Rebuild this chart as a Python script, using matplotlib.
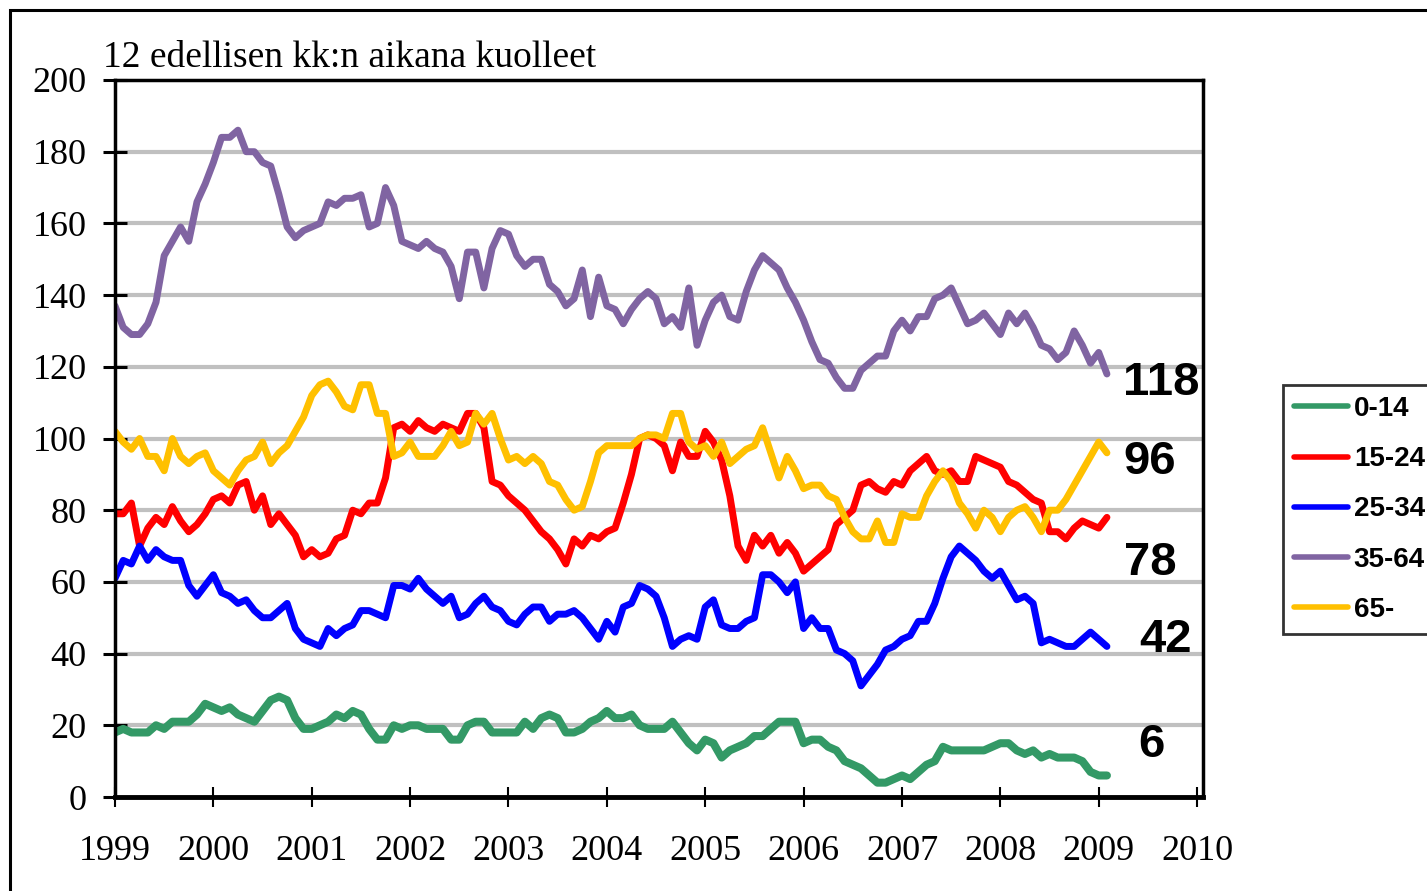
import numpy as np
import matplotlib
matplotlib.use("Agg")
import matplotlib.pyplot as plt
from matplotlib.patches import Rectangle

# monthly values, Jan 1999 .. Feb 2009
age_0_14 = [18, 19, 18, 18, 18, 20, 19, 21, 21, 21, 23, 26,
            25, 24, 25, 23, 22, 21, 24, 27, 28, 27, 22, 19,
            19, 20, 21, 23, 22, 24, 23, 19, 16, 16, 20, 19,
            20, 20, 19, 19, 19, 16, 16, 20, 21, 21, 18, 18,
            18, 18, 21, 19, 22, 23, 22, 18, 18, 19, 21, 22,
            24, 22, 22, 23, 20, 19, 19, 19, 21, 18, 15, 13,
            16, 15, 11, 13, 14, 15, 17, 17, 19, 21, 21, 21,
            15, 16, 16, 14, 13, 10, 9, 8, 6, 4, 4, 5,
            6, 5, 7, 9, 10, 14, 13, 13, 13, 13, 13, 14,
            15, 15, 13, 12, 13, 11, 12, 11, 11, 11, 10, 7,
            6, 6]
age_15_24 = [79, 79, 82, 70, 75, 78, 76, 81, 77, 74, 76, 79,
             83, 84, 82, 87, 88, 80, 84, 76, 79, 76, 73, 67,
             69, 67, 68, 72, 73, 80, 79, 82, 82, 89, 103, 104,
             102, 105, 103, 102, 104, 103, 102, 107, 107, 103, 88, 87,
             84, 82, 80, 77, 74, 72, 69, 65, 72, 70, 73, 72,
             74, 75, 82, 90, 100, 101, 100, 98, 91, 99, 95, 95,
             102, 99, 94, 84, 70, 66, 73, 70, 73, 68, 71, 68,
             63, 65, 67, 69, 76, 78, 80, 87, 88, 86, 85, 88,
             87, 91, 93, 95, 91, 90, 91, 88, 88, 95, 94, 93,
             92, 88, 87, 85, 83, 82, 74, 74, 72, 75, 77, 76,
             75, 78]
age_25_34 = [61, 66, 65, 70, 66, 69, 67, 66, 66, 59, 56, 59,
             62, 57, 56, 54, 55, 52, 50, 50, 52, 54, 47, 44,
             43, 42, 47, 45, 47, 48, 52, 52, 51, 50, 59, 59,
             58, 61, 58, 56, 54, 56, 50, 51, 54, 56, 53, 52,
             49, 48, 51, 53, 53, 49, 51, 51, 52, 50, 47, 44,
             49, 46, 53, 54, 59, 58, 56, 50, 42, 44, 45, 44,
             53, 55, 48, 47, 47, 49, 50, 62, 62, 60, 57, 60,
             47, 50, 47, 47, 41, 40, 38, 31, 34, 37, 41, 42,
             44, 45, 49, 49, 54, 61, 67, 70, 68, 66, 63, 61,
             63, 59, 55, 56, 54, 43, 44, 43, 42, 42, 44, 46,
             44, 42]
age_35_64 = [137, 131, 129, 129, 132, 138, 151, 155, 159, 155, 166, 171,
             177, 184, 184, 186, 180, 180, 177, 176, 168, 159, 156, 158,
             159, 160, 166, 165, 167, 167, 168, 159, 160, 170, 165, 155,
             154, 153, 155, 153, 152, 148, 139, 152, 152, 142, 153, 158,
             157, 151, 148, 150, 150, 143, 141, 137, 139, 147, 134, 145,
             137, 136, 132, 136, 139, 141, 139, 132, 134, 131, 142, 126,
             133, 138, 140, 134, 133, 141, 147, 151, 149, 147, 142, 138,
             133, 127, 122, 121, 117, 114, 114, 119, 121, 123, 123, 130,
             133, 130, 134, 134, 139, 140, 142, 137, 132, 133, 135, 132,
             129, 135, 132, 135, 131, 126, 125, 122, 124, 130, 126, 121,
             124, 118]
age_65 = [102, 99, 97, 100, 95, 95, 91, 100, 95, 93, 95, 96,
          91, 89, 87, 91, 94, 95, 99, 93, 96, 98, 102, 106,
          112, 115, 116, 113, 109, 108, 115, 115, 107, 107, 95, 96,
          99, 95, 95, 95, 98, 102, 98, 99, 107, 104, 107, 100,
          94, 95, 93, 95, 93, 88, 87, 83, 80, 81, 88, 96,
          98, 98, 98, 98, 100, 101, 101, 100, 107, 107, 99, 97,
          98, 95, 99, 93, 95, 97, 98, 103, 96, 89, 95, 91,
          86, 87, 87, 84, 83, 78, 74, 72, 72, 77, 71, 71,
          79, 78, 78, 84, 88, 91, 88, 82, 79, 75, 80, 78,
          74, 78, 80, 81, 78, 74, 80, 80, 83, 87, 91, 95,
          99, 96]

labels = ["0-14", "15-24", "25-34", "35-64", "65-"]
colors = ["#339966", "#FF0000", "#0000FF", "#8064A2", "#FFC000"]
series = [age_0_14, age_15_24, age_25_34, age_35_64, age_65]
end_labels = ["6", "78", "42", "118", "96"]
years = list(range(1999, 2011))

months = np.arange(len(age_0_14))
x = 1999 + months / 12.0

fig = plt.figure(figsize=(14.27, 8.91), dpi=100)
ax = fig.add_axes([115 / 1427, 1 - 797 / 891, (1203 - 115) / 1427, (797 - 80) / 891])

for vals, col, lab in zip(series, colors, labels):
    lw = 5.8 if lab == "0-14" else 5.0
    ax.plot(x, vals, color=col, lw=lw, label=lab, solid_joinstyle="round",
            solid_capstyle="round")

ax.set_xlim(1999, 2010.06)
ax.set_ylim(0, 200)
ax.set_yticks(range(0, 201, 20))
ax.set_xticks(years)
ax.set_xticklabels([str(y) for y in years])
for yv in range(20, 200, 20):
    ax.axhline(yv, color="#C0C0C0", lw=3, zorder=0)

for sp in ax.spines.values():
    sp.set_linewidth(2.5)
    sp.set_color("black")
ax.spines["bottom"].set_linewidth(3.5)

ax.tick_params(axis="y", direction="inout", length=17, width=2.2, pad=12,
               labelsize=26)
ax.tick_params(axis="x", direction="inout", length=15, width=1.5, pad=20,
               labelsize=26)
for t in ax.get_xticklabels() + ax.get_yticklabels():
    t.set_fontfamily("Liberation Serif")

ax.text(1999 - 12 / 98.4, 201.5, "12 edellisen kk:n aikana kuolleet",
        fontfamily="Liberation Serif", fontsize=27, va="bottom", ha="left")

# values at the end of each line
end_pos = [(2009.54, 14.5), (2009.52, 65.3), (2009.68, 43.8),
           (2009.64, 115.5), (2009.52, 93.4)]
for txt, (px, py) in zip(end_labels, end_pos):
    ax.text(px, py, txt, fontfamily="Liberation Sans", fontweight="bold",
            fontsize=34, ha="center", va="center")

leg = fig.legend(loc="upper left", bbox_to_anchor=(1283 / 1427, 1 - 385 / 891),
                 frameon=True, fancybox=False, edgecolor="black",
                 prop={"family": "Liberation Sans", "size": 20, "weight": "bold"},
                 handlelength=1.95, handletextpad=0.2, labelspacing=0.87,
                 borderpad=0.4, borderaxespad=0)
leg.get_frame().set_linewidth(2)
for h in leg.get_lines():
    h.set_linewidth(4)

# outer frame of the picture
fig.add_artist(Rectangle((10 / 1427, -0.05), 1.2, 1 - 10 / 891 + 0.05,
                         transform=fig.transFigure, fill=False,
                         edgecolor="black", lw=2.2))

fig.savefig("out.png", dpi=100)
